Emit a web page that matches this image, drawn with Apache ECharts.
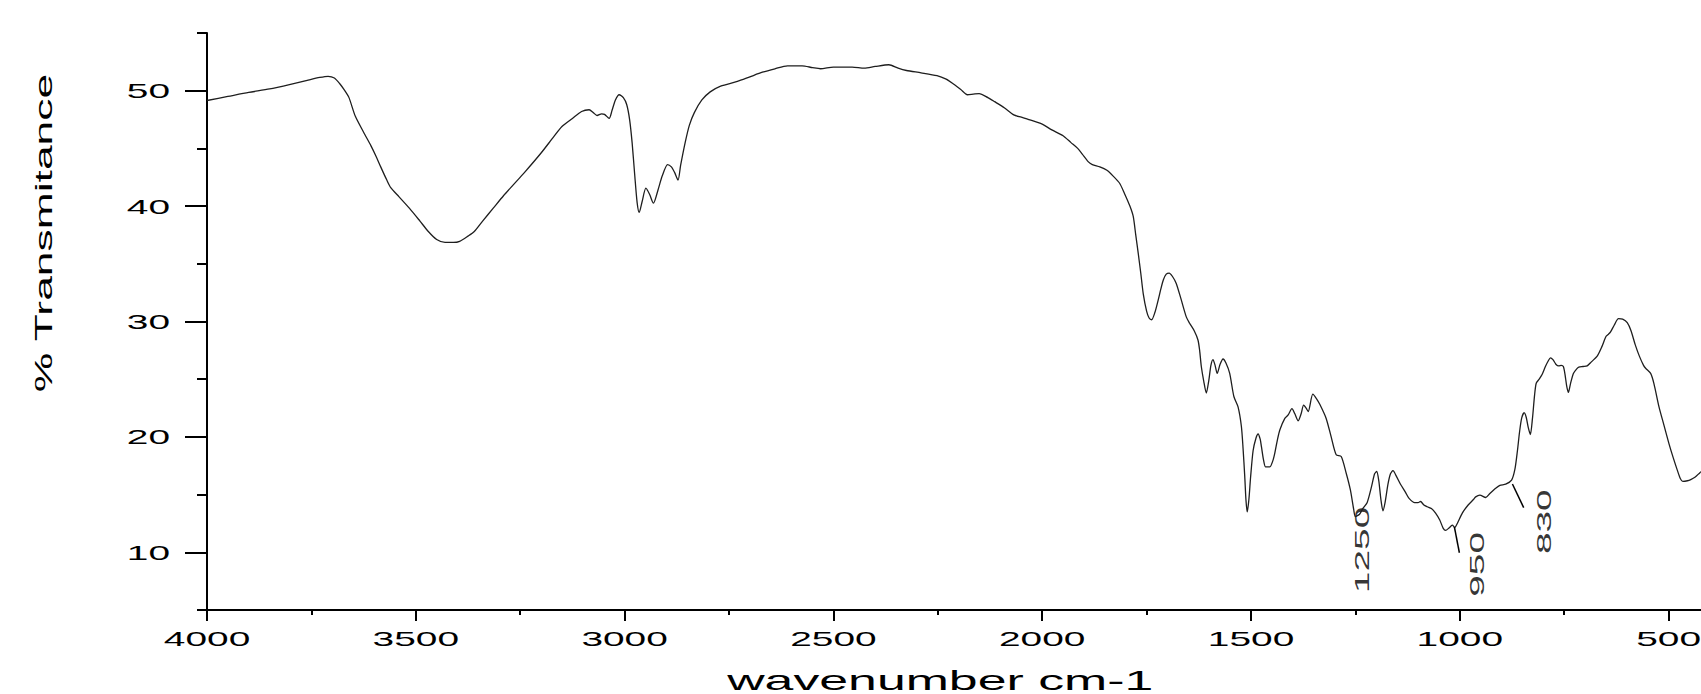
<!DOCTYPE html>
<html>
<head>
<meta charset="utf-8">
<script src="https://cdn.jsdelivr.net/npm/echarts@6/dist/echarts.min.js"></script>
<style>
html,body{margin:0;padding:0;overflow:hidden;background:#fff;width:1701px;height:694px}
#c{width:1900px;height:694px}
</style>
</head>
<body>
<div id="c"></div>
<script>
// ---- data ----
const wavenumber = [
4000,3950,3900,3850,3800,3760,3730,3710,3695,3682,3670,3660,3645,3625,3607,3595,3584,3570,3560,3540,
3515,3490,3470,3450,3430,3410,3395,3375,3360,3340,3315,3290,3265,3240,3200,3170,3150,3125,3103,3085,
3075,3066,3055,3048,3037,3030,3022,3013,3003,2995,2988,2982,2976,2970,2965,2958,2949,2940,2931,2920,
2910,2897,2888,2880,2872,2866,2855,2845,2833,2815,2795,2770,2730,2700,2670,2640,2610,2575,2550,2531,
2500,2455,2426,2400,2367,2345,2325,2290,2252,2230,2215,2195,2179,2165,2151,2130,2114,2090,2068,2050,
2032,2000,1977,1950,1931,1915,1904,1890,1880,1862,1845,1830,1815,1803,1790,1782,1776,1770,1764,1758,
1750,1744,1738,1730,1722,1716,1710,1703,1696,1688,1679,1668,1655,1647,1636,1627,1623,1619,1613,1607,
1601,1596,1591,1586,1581,1574,1567,1560,1551,1541,1531,1523,1519,1515,1512,1509,1505,1501,1495,1488,
1483,1478,1475,1470,1465,1455,1448,1443,1437,1431,1419,1411,1402,1395,1387,1380,1374,1368,1363,1352,
1343,1335,1320,1308,1296,1284,1272,1262,1254,1250,1240,1232,1222,1212,1204,1199,1194,1189,1184,1179,
1172,1166,1160,1152,1142,1130,1122,1108,1100,1094,1086,1078,1068,1058,1048,1040,1034,1026,1018,1012,
1006,994,980,968,962,952,938,928,914,904,890,876,868,862,857,852,846,841,836,831,
826,821,817,810,803,795,788,783,777,770,763,757,752,748,744,740,735,728,720,715,
705,695,685,671,660,650,644,639,630,620,610,599,590,580,570,560,555,543,535,523,
511,499,489,479,472,466,455,447,437,425,415
];
const transmittance = [
49.15,49.5,49.85,50.15,50.55,50.9,51.15,51.25,51.1,50.6,50.0,49.4,47.8,46.4,45.2,44.3,43.4,42.3,41.6,40.8,
39.8,38.7,37.8,37.1,36.85,36.85,36.95,37.4,37.8,38.7,39.8,40.9,41.9,42.9,44.6,46.0,46.9,47.6,48.2,48.35,
48.1,47.85,48.0,47.95,47.6,48.3,49.2,49.65,49.4,48.8,47.5,45.5,42.8,40.3,39.45,40.4,41.55,41.0,40.25,41.4,
42.6,43.6,43.4,42.9,42.25,43.5,45.5,47.0,48.1,49.2,49.9,50.4,50.8,51.2,51.6,51.9,52.15,52.15,52.0,51.9,
52.05,52.05,51.95,52.1,52.25,51.95,51.75,51.55,51.3,51.0,50.65,50.1,49.65,49.7,49.75,49.4,49.05,48.5,47.9,47.7,
47.5,47.1,46.6,46.1,45.5,45.0,44.5,43.85,43.6,43.4,43.1,42.6,42.0,41.1,40.0,39.1,37.5,35.9,34.2,32.4,
30.9,30.3,30.15,30.8,31.9,32.8,33.6,34.1,34.2,33.9,33.3,32.0,30.4,29.85,29.2,28.4,27.5,26.1,24.8,23.8,
24.9,26.2,26.7,26.2,25.5,26.3,26.75,26.4,25.5,23.5,22.6,20.9,19.0,16.6,14.5,13.5,14.6,16.5,18.8,19.9,
20.25,19.8,19.15,18.0,17.4,17.4,17.9,18.6,19.7,20.6,21.6,21.9,22.45,22.0,21.4,22.0,22.75,22.5,22.2,23.7,
23.3,22.8,21.6,20.0,18.45,18.3,16.85,15.4,13.7,13.1,13.3,13.8,14.3,15.6,16.8,17.0,16.2,14.6,13.6,14.3,
15.9,16.8,17.07,16.6,15.9,15.2,14.7,14.3,14.3,14.4,14.1,13.95,13.8,13.4,12.8,12.1,11.9,12.1,12.35,12.15,
12.5,13.4,14.1,14.55,14.8,14.95,14.75,15.1,15.55,15.8,15.9,16.25,17.2,18.8,20.4,21.6,22.1,21.7,20.8,20.2,
21.6,23.6,24.65,25.0,25.4,26.1,26.6,26.85,26.7,26.3,26.15,26.2,26.1,25.4,24.4,23.85,24.6,25.5,25.9,26.05,
26.1,26.15,26.5,27.0,27.8,28.7,28.9,29.1,29.7,30.25,30.2,29.9,29.2,28.0,27.0,26.2,25.95,25.5,24.6,22.6,
21.0,19.4,18.2,17.1,16.4,16.15,16.2,16.3,16.5,16.9,17.2
];
// peak annotations (rotated labels) and their leader lines
const annoText = ['1250', '950', '830'];
const annoX = [1235, 959, 800];
const annoY = [10.2, 8.95, 12.65];
const leaderFrom = [[1013, 12.21], [874, 15.92]];
const leaderTo = [[1001, 9.96], [847, 13.87]];

const FONT = '"Liberation Sans", Arial, sans-serif';
const spectrum = wavenumber.map((w, i) => [w, transmittance[i]]);
const annoData = annoText.map((t, i) => ({name: t, value: [annoX[i], annoY[i]]}));
const leaderData = leaderFrom.map((p, i) => [{coord: p}, {coord: leaderTo[i]}]);

const axisLS = {color: '#000', width: 2};
const chart = echarts.init(document.getElementById('c'), null, {renderer: 'svg'});
chart.setOption({
  animation: false,
  backgroundColor: '#fff',
  grid: {left: 207, top: 33, width: 1670.4, height: 577, containLabel: false, outerBoundsMode: 'none'},
  xAxis: {
    type: 'value', inverse: true, min: 0, max: 4000, interval: 500,
    name: 'wavenumber cm-1', nameLocation: 'middle', nameGap: 56,
    nameTextStyle: {fontFamily: FONT, fontSize: 28, color: '#000', padding: [0, 204, 0, 0]},
    axisLine: {lineStyle: axisLS},
    axisTick: {length: 11, lineStyle: axisLS},
    minorTick: {show: true, splitNumber: 2, length: 5, lineStyle: axisLS},
    axisLabel: {margin: 18, fontSize: 21, color: '#000', fontFamily: FONT,
      formatter: v => String(v)},
    splitLine: {show: false}, minorSplitLine: {show: false}
  },
  yAxis: [{
    type: 'value', min: 5, max: 55, interval: 5, position: 'left',
    name: '% Transmitance', nameLocation: 'middle', nameGap: 152, nameRotate: 90,
    nameTextStyle: {fontFamily: FONT, fontSize: 24, color: '#000', padding: [0, 0, 0, 177]},
    axisLine: {show: false}, axisTick: {show: false},
    axisLabel: {margin: 37, fontSize: 21, color: '#000', fontFamily: FONT,
      formatter: v => (v % 10 === 0 ? String(v) : '')},
    splitLine: {show: false}
  }, {
    type: 'value', min: 5, max: 55, interval: 10, position: 'left',
    axisLine: {show: true, lineStyle: axisLS},
    axisTick: {show: true, length: 10, lineStyle: axisLS},
    minorTick: {show: true, splitNumber: 2, length: 22, lineStyle: axisLS},
    axisLabel: {show: false}, splitLine: {show: false}, minorSplitLine: {show: false}
  }],
  series: [{
    type: 'line', data: spectrum, showSymbol: false, symbol: 'none',
    smooth: 0.25, lineStyle: {color: '#1e1e1e', width: 1.3}, xAxisIndex: 0, yAxisIndex: 0
  }, {
    type: 'scatter', data: annoData, symbolSize: 0, xAxisIndex: 0, yAxisIndex: 0,
    label: {show: true, position: 'inside', rotate: 90, formatter: '{b}',
      fontFamily: FONT, fontSize: 21, color: '#000'},
    markLine: {silent: true, symbol: ['none', 'none'], label: {show: false},
      lineStyle: {color: '#000', width: 1.5, type: 'solid'}, data: leaderData}
  }]
});

function stretch() {
  document.querySelectorAll('#c svg text').forEach(t => {
    if (t.getAttribute('data-s')) return;
    const L = t.getComputedTextLength();
    if (L > 0) {
      t.setAttribute('textLength', (L * 1.85).toFixed(2));
      t.setAttribute('lengthAdjust', 'spacingAndGlyphs');
      t.setAttribute('data-s', '1');
    }
  });
}
stretch();
chart.on('finished', stretch);
setTimeout(stretch, 50);
</script>
</body>
</html>
